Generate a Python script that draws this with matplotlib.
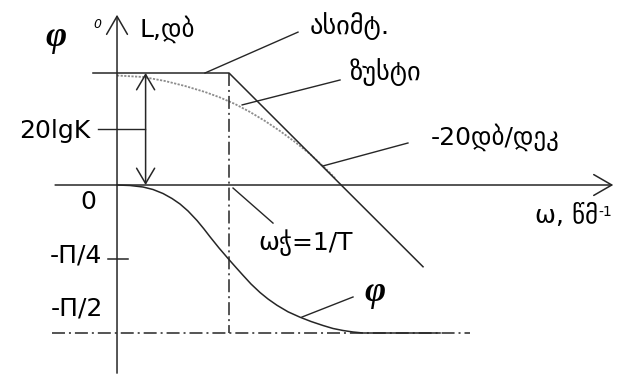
import matplotlib as mpl
mpl.use("Agg")
import matplotlib.pyplot as plt

plt.rcParams["font.family"] = ["DejaVu Sans"]

# ---------------------------------------------------------------
# data (T = 1 s, K = 10 -> 20lgK = 20 dB)
# ---------------------------------------------------------------
asym_w = [0.061, 1.0, 54.0]
asym_L = [20.0, 20.0, -14.6]

exact_w = [0.1, 0.1707, 0.2683, 0.4046, 0.6105, 0.8311, 1.1314, 1.5399,
           2.0961, 2.8538, 3.885, 5.2874, 7.1969, 8.8397]
exact_L = [19.55, 19.29, 18.57, 17.68, 16.61, 15.63, 14.46, 13.04,
           11.43, 9.64, 7.68, 5.54, 3.04, 1.25]

phase_w = [0.1, 0.1306, 0.1707, 0.2097, 0.2574, 0.3097, 0.3651, 0.4305,
           0.5179, 0.598, 0.6767, 0.8143, 1.0, 1.1548, 1.3335, 1.5717,
           1.8916, 2.2295, 2.6827, 3.3634, 4.3053, 5.397, 6.9074, 8.4834,
           10.42, 12.8, 15.72, 76.6]
phase_deg = [0.0, -0.3, -1.22, -2.74, -5.17, -8.21, -11.55, -15.81,
             -21.59, -26.76, -31.5, -38.31, -45.37, -50.17, -54.91, -60.2,
             -65.37, -69.32, -73.15, -77.11, -80.39, -83.0, -85.44, -87.26,
             -88.48, -89.39, -90.0, -90.0]

w_axis = 0.1        # where the vertical axis stands
w_corner = 1.0      # 1/T
K_dB = 20.0

INK = "#262626"
LW = 1.1
DASHDOT = (0, (8.5, 2.6, 1.3, 2.6))

# ---------------------------------------------------------------
# figure
# ---------------------------------------------------------------
fig = plt.figure(figsize=(6.42, 3.76), dpi=100)
ax = fig.add_axes([0, 0, 1, 1])
ax.set_xscale("log")
ax.set_xlim(0.009019, 4870)
ax.set_ylim(-34.107, 33.036)
axp = ax.twinx()
axp.set_ylim(-116.15, 112.5)
ax.axis("off")
axp.axis("off")

arrow_kw = dict(arrowstyle="->,head_length=1.3,head_width=0.75",
                lw=LW, color=INK, shrinkA=0, shrinkB=0, mutation_scale=10)

# axes with arrows
ax.annotate("", xy=(w_axis, 30.4), xytext=(w_axis, -33.6), arrowprops=arrow_kw)
ax.annotate("", xy=(2700, 0), xytext=(0.028, 0), arrowprops=arrow_kw)

# asymptote and exact curve
ax.plot(exact_w, exact_L, color="#8c8c8c", lw=1.3, ls=(0, (1.2, 0.8)), zorder=2)
ax.plot(asym_w, asym_L, color=INK, lw=LW, zorder=3)

# phase
axp.plot(phase_w, phase_deg, color=INK, lw=LW, zorder=3)
axp.plot([0.0263, 142], [-90, -90], color=INK, lw=LW, ls=DASHDOT)

# corner frequency line, down to the -pi/2 level
y_m90 = ax.transData.inverted().transform(axp.transData.transform((w_corner, -90)))[1]
ax.plot([w_corner, w_corner], [K_dB, y_m90], color=INK, lw=LW, ls=DASHDOT)

# 20lgK double arrow
ax.annotate("", xy=(0.18, K_dB), xytext=(0.18, 0),
            arrowprops=dict(arrowstyle="<->,head_length=1.1,head_width=0.65",
                            lw=LW, color=INK, shrinkA=0, shrinkB=0,
                            mutation_scale=10))

# -pi/4 tick
axp.plot([0.083, 0.125], [-45, -45], color=INK, lw=LW)

# leader lines
lead = dict(color=INK, lw=1.0)
ax.plot([0.0677, 0.178], [10.0, 10.0], **lead)
ax.plot([0.61, 4.13], [20.0, 27.3], **lead)
ax.plot([1.31, 9.8], [14.3, 18.75], **lead)
ax.plot([6.9, 39.6], [3.4, 7.5], **lead)
ax.plot([1.086, 2.47], [-0.54, -6.8], **lead)
axp.plot([4.48, 12.8], [-80.3, -68.1], **lead)

# ---------------------------------------------------------------
# text
# ---------------------------------------------------------------
FS = 18
phi_kw = dict(family=["Liberation Serif", "DejaVu Serif"], style="italic",
              weight="bold", color="black")

ax.text(0.0285, 26.4, "φ", fontsize=26, ha="center", va="center", **phi_kw)
ax.text(0.0663, 28.75, "0", fontsize=9, style="italic", ha="center", va="center")
ax.text(0.160, 26.4, "L,დბ", fontsize=FS, ha="left", va="baseline")
ax.text(5.29, 28.4, "ასიმტ.", fontsize=19, ha="left", va="center")
ax.text(12.0, 20.2, "ზუსტი", fontsize=19, ha="left", va="center")
ax.text(63.6, 7.14, "-20დბ/დეკ", fontsize=FS, ha="left", va="baseline")
t = ax.text(540, -6.8, "ω, წმ", fontsize=FS, ha="left", va="baseline")
ax.annotate("-1", xy=(1.0, 0.95), xycoords=t, fontsize=10,
            ha="left", va="top")
ax.text(1.82, -11.6, "ωჭ=1/T", fontsize=18, ha="left", va="baseline")
ax.text(0.0551, -3.04, "0", fontsize=FS, ha="center", va="center")
ax.text(0.0735, -12.5, "-Π/4", fontsize=FS, ha="right", va="center")
ax.text(0.0750, -22.0, "-Π/2", fontsize=FS, ha="right", va="center")
ax.text(0.0574, 9.64, "20lgK", fontsize=FS, ha="right", va="center")
axp.text(20.1, -65.1, "φ", fontsize=26, ha="center", va="center", **phi_kw)

fig.savefig("out.png", dpi=100)
